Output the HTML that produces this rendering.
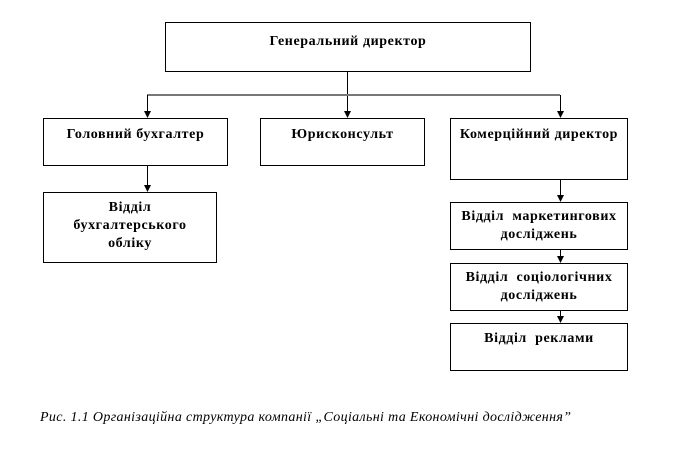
<!DOCTYPE html>
<html><head><meta charset="utf-8"><style>
body{margin:0;width:676px;height:459px;background:#fff;position:relative;overflow:hidden;font-family:"Liberation Serif",serif}
.b{position:absolute;border:1px solid #000;box-sizing:border-box;font-weight:bold;font-size:14px;text-align:center;line-height:18px;letter-spacing:0.6px;white-space:nowrap}
.cap{position:absolute;left:40px;top:410px;font-style:italic;font-size:14px;letter-spacing:0.35px;white-space:nowrap}
</style></head><body>
<svg width="676" height="459" style="position:absolute;left:0;top:0">
<g stroke="#000" stroke-width="1" fill="none">
<line x1="347.5" y1="72" x2="347.5" y2="112"/>
<line x1="147" y1="95" x2="560" y2="95" stroke="#777" stroke-width="2"/>
<line x1="147.5" y1="95" x2="147.5" y2="112"/>
<line x1="560.5" y1="95" x2="560.5" y2="112"/>
<line x1="147.5" y1="166" x2="147.5" y2="186"/>
<line x1="560.5" y1="180" x2="560.5" y2="196"/>
<line x1="560.5" y1="250" x2="560.5" y2="257"/>
<line x1="560.5" y1="311" x2="560.5" y2="317"/>
</g>
<g fill="#000">
<path d="M344,111 L351,111 L347.5,118z"/>
<path d="M144,111 L151,111 L147.5,118z"/>
<path d="M557,111 L564,111 L560.5,118z"/>
<path d="M144,185 L151,185 L147.5,192z"/>
<path d="M557,195 L564,195 L560.5,202z"/>
<path d="M557,256 L564,256 L560.5,263z"/>
<path d="M557,316 L564,316 L560.5,323z"/>
</g></svg>
<div class="b" style="left:165px;top:22px;width:366px;height:50px;padding-top:10px">Генеральний директор</div>
<div class="b" style="left:43px;top:118px;width:185px;height:48px;padding-top:7px">Головний бухгалтер</div>
<div class="b" style="left:260px;top:118px;width:165px;height:48px;padding-top:7px">Юрисконсульт</div>
<div class="b" style="left:450px;top:118px;width:178px;height:62px;padding-top:7px">Комерційний директор</div>
<div class="b" style="left:43px;top:192px;width:174px;height:71px;padding-top:6px">Відділ<br>бухгалтерського<br>обліку</div>
<div class="b" style="left:450px;top:202px;width:178px;height:48px;padding-top:5px">Відділ&nbsp; маркетингових<br>досліджень</div>
<div class="b" style="left:450px;top:263px;width:178px;height:48px;padding-top:5px">Відділ&nbsp; соціологічних<br>досліджень</div>
<div class="b" style="left:450px;top:323px;width:178px;height:48px;padding-top:6px">Відділ&nbsp; реклами</div>
<div class="cap">Рис. 1.1 Організаційна структура компанії „Соціальні та Економічні дослідження”</div>
</body></html>
